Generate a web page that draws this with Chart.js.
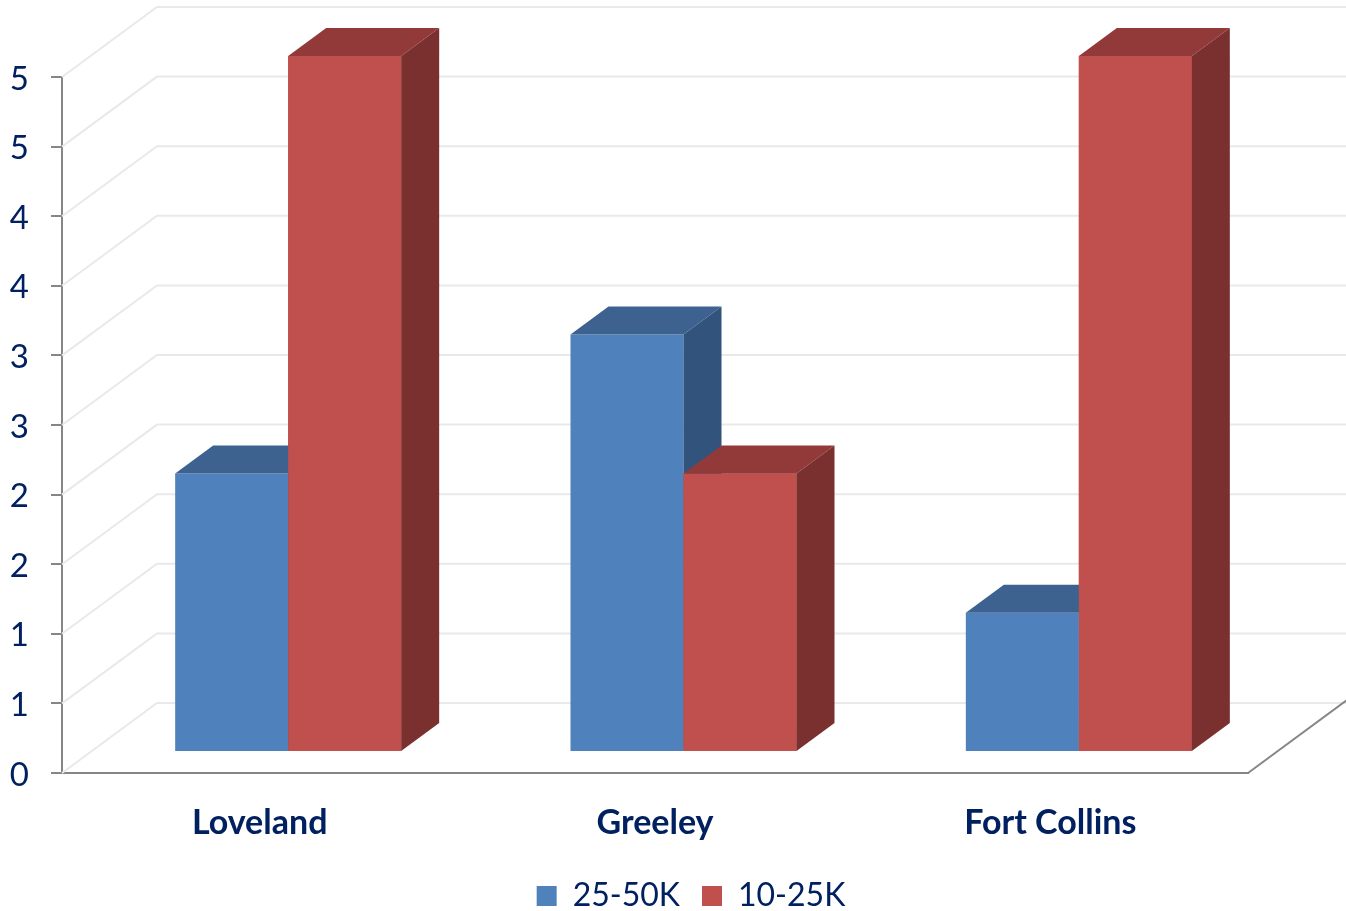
<!DOCTYPE html>
<html>
<head>
<meta charset="utf-8">
<script src="https://cdn.jsdelivr.net/npm/chart.js@4/dist/chart.umd.min.js"></script>
<style>
  html, body { margin: 0; padding: 0; background: #ffffff; }
  canvas { display: block; }
</style>
</head>
<body>
<canvas id="chart" width="1346" height="911"></canvas>
<script>
// Categories and series
const categories = ['Loveland', 'Greeley', 'Fort Collins'];
const seriesNames = ['25-50K', '10-25K'];
const values2550 = [2, 3, 1];
const values1025 = [5, 2, 5];
// Axis labels as printed (half steps rounded to whole numbers)
const yTickLabels = ['0', '1', '1', '2', '2', '3', '3', '4', '4', '5', '5'];

const TEXT = '#002060';
const AXIS = '#868686';
const GRID = '#E9E9E9';
const FONT = "Lato, 'Open Sans', sans-serif";

// Depth of the wall box, and where the bar slab sits inside it
const WALL_DX = 95, WALL_DY = -70;
const BAR_OFF_DX = WALL_DX * 0.3, BAR_OFF_DY = WALL_DY * 0.3;
const BAR_DX = WALL_DX * 0.4, BAR_DY = WALL_DY * 0.4;

const faceColors = [
  { top: '#3D628F', side: '#32537C' },
  { top: '#923A39', side: '#7B3030' }
];

// top and right-hand faces of each bar of one dataset
function drawFaces(ctx, meta, c) {
  meta.data.forEach(el => {
    const p = el.getProps(['x', 'y', 'base', 'width'], true);
    const l = p.x - p.width / 2, r = p.x + p.width / 2;
    const top = Math.min(p.y, p.base), bot = Math.max(p.y, p.base);
    ctx.fillStyle = c.top;
    ctx.beginPath();
    ctx.moveTo(l, top);
    ctx.lineTo(l + BAR_DX, top + BAR_DY);
    ctx.lineTo(r + BAR_DX, top + BAR_DY);
    ctx.lineTo(r, top);
    ctx.closePath();
    ctx.fill();
    ctx.fillStyle = c.side;
    ctx.beginPath();
    ctx.moveTo(r, top);
    ctx.lineTo(r + BAR_DX, top + BAR_DY);
    ctx.lineTo(r + BAR_DX, bot + BAR_DY);
    ctx.lineTo(r, bot);
    ctx.closePath();
    ctx.fill();
  });
}

const box3d = {
  id: 'box3d',
  afterLayout(chart) {
    // centre the legend under the whole figure and drop it to the bottom edge
    const lg = chart.legend;
    if (lg) {
      lg.left += 67; lg.right += 67;
      lg.top += 15; lg.bottom += 15;
    }
  },
  beforeDatasetsDraw(chart) {
    const { ctx, chartArea, scales } = chart;
    const y = scales.y;
    ctx.save();
    ctx.lineWidth = 2;
    ctx.strokeStyle = GRID;
    y.ticks.forEach(t => {
      const py = y.getPixelForValue(t.value);
      ctx.beginPath();
      ctx.moveTo(chartArea.left, py);
      ctx.lineTo(chartArea.left + WALL_DX, py + WALL_DY);
      ctx.lineTo(chart.width, py + WALL_DY);
      ctx.stroke();
    });
    // right edge of the floor
    ctx.strokeStyle = AXIS;
    ctx.beginPath();
    ctx.moveTo(chartArea.right, chartArea.bottom);
    ctx.lineTo(chartArea.right + WALL_DX * 1.04, chartArea.bottom + WALL_DY * 1.04);
    ctx.stroke();
    ctx.restore();
    // bars sit part-way into the box
    ctx.save();
    ctx.translate(BAR_OFF_DX, BAR_OFF_DY);
  },
  afterDatasetDraw(chart, args) {
    if (args.index === 0) drawFaces(chart.ctx, args.meta, faceColors[0]);
  },
  afterDatasetsDraw(chart) {
    // the right-hand series stands in front of the blue side faces
    const ctx = chart.ctx;
    const meta = chart.getDatasetMeta(1);
    meta.data.forEach(el => el.draw(ctx));
    drawFaces(ctx, meta, faceColors[1]);
    ctx.restore();
  }
};

new Chart(document.getElementById('chart'), {
  type: 'bar',
  data: {
    labels: categories,
    datasets: [
      { label: seriesNames[0], data: values2550, backgroundColor: '#4F81BD' },
      { label: seriesNames[1], data: values1025, backgroundColor: '#C0504D' }
    ]
  },
  options: {
    responsive: false,
    animation: false,
    events: [],
    layout: { padding: { left: 0, right: 98, top: 77, bottom: 4 } },
    datasets: { bar: { categoryPercentage: 0.5717, barPercentage: 1, borderWidth: 0 } },
    scales: {
      x: {
        grid: { display: false },
        border: { display: true, color: AXIS, width: 2 },
        ticks: { color: TEXT, font: { family: FONT, size: 34, weight: 'bold' }, padding: 22, maxRotation: 0 },
        afterFit: s => { s.height = 70; }
      },
      y: {
        min: 0, max: 5,
        afterFit: s => { s.width = 62; },
        grid: { drawOnChartArea: false, drawTicks: true, tickLength: 11, color: AXIS, lineWidth: 2 },
        border: { display: true, color: AXIS, width: 2 },
        ticks: {
          stepSize: 0.5,
          color: TEXT,
          padding: 22,
          labelOffset: 2,
          font: { family: FONT, size: 33 },
          callback: (v, i) => yTickLabels[i]
        }
      }
    },
    plugins: {
      tooltip: { enabled: false },
      legend: {
        position: 'bottom',
        labels: {
          color: TEXT,
          font: { family: FONT, size: 32 },
          boxWidth: 20, boxHeight: 20,
          padding: 22
        }
      }
    }
  },
  plugins: [box3d]
});
</script>
</body>
</html>
